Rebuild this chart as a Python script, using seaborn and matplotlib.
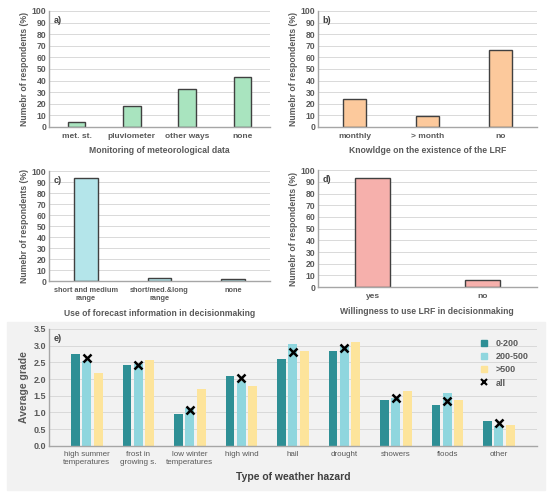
import numpy as np
import pandas as pd
import matplotlib
matplotlib.use("Agg")
import matplotlib.pyplot as plt
from matplotlib.patches import Rectangle
from matplotlib.lines import Line2D
import seaborn as sns

# panel a) monitoring of meteorological data
mon_labels = ["met. st.", "pluviometer", "other ways", "none"]
mon_vals = [4, 18, 33, 43]

# panel b) knowledge on LRF
know_labels = ["monthly", "> month", "no"]
know_vals = [24, 9.5, 66]

# panel c) use of forecast information
use_labels = ["short and medium\nrange", "short/med.&long\nrange", "none"]
use_vals = [94, 3, 2]

# panel d) willingness to use LRF
will_labels = ["yes", "no"]
will_vals = [93, 6]

# panel e) average grade per hazard and farm size
hazards = ["high summer\ntemperatures", "frost in\ngrowing s.", "low winter\ntemperatures",
           "high wind", "hail", "drought", "showers", "floods", "other"]
g_0_200 = [2.76, 2.43, 0.96, 2.08, 2.59, 2.84, 1.37, 1.22, 0.75]
g_200_500 = [2.55, 2.45, 1.13, 1.94, 3.04, 3.00, 1.43, 1.57, 0.60]
g_500 = [2.19, 2.57, 1.69, 1.80, 2.83, 3.11, 1.64, 1.36, 0.62]
g_all = [2.62, 2.42, 1.08, 2.02, 2.82, 2.92, 1.43, 1.34, 0.68]
groups = ["0-200", "200-500", ">500"]

sns.set_theme(style="white")
plt.rcParams['font.family'] = ['Liberation Sans', 'DejaVu Sans']
plt.rcParams['font.weight'] = 'bold'

tick_col = "#595959"
grid_col = "#d9d9d9"
spine_col = "#a6a6a6"

fig = plt.figure(figsize=(5.5, 4.96), dpi=100)

# gray box behind panel e
fig.patches.append(Rectangle((7 / 550, 1 - 490 / 496), 538 / 550, 168 / 496,
                             transform=fig.transFigure, color="#f2f2f2", zorder=-5))


def style_axis(ax, ymax, step, xsize=6.0):
    ax.set_ylim(0, ymax)
    ax.set_yticks(np.arange(0, ymax + step / 2, step))
    ax.grid(axis="y", color=grid_col, linewidth=0.7)
    ax.set_axisbelow(True)
    for s in ["top", "right"]:
        ax.spines[s].set_visible(False)
    for s in ["left", "bottom"]:
        ax.spines[s].set_color(spine_col)
        ax.spines[s].set_linewidth(1.0)
    ax.tick_params(axis="both", length=0, pad=2, colors=tick_col, labelsize=6.2)
    ax.tick_params(axis="x", labelsize=xsize, pad=4)
    for t in ax.get_yticklabels() + ax.get_xticklabels():
        t.set_fontweight("bold")


def small_panel(rect, labels, vals, color, letter, xlabel, xsize=6.0):
    ax = fig.add_axes(rect)
    df = pd.DataFrame({"cat": labels, "val": vals})
    sns.barplot(data=df, x="cat", y="val", color=color, width=0.32, saturation=1,
                edgecolor="#404040", linewidth=1.0, ax=ax)
    style_axis(ax, 100, 10, xsize)
    ax.set_ylabel("Numebr of respondents (%)", fontsize=6.2, color=tick_col,
                  fontweight="bold", labelpad=2)
    ax.set_xlabel(xlabel, fontsize=6.2, color=tick_col, fontweight="bold", labelpad=5)
    ax.text(0.02, 0.96, letter, transform=ax.transAxes, fontsize=6.5,
            fontweight="bold", color="#404040", va="top")
    return ax


small_panel([0.089, 0.744, 0.402, 0.234], mon_labels, mon_vals, "#a9e4bf", "a)",
            "Monitoring of meteorological data")
small_panel([0.578, 0.744, 0.398, 0.234], know_labels, know_vals, "#fcc99c", "b)",
            "Knowldge on the existence of the LRF")
small_panel([0.089, 0.433, 0.402, 0.222], use_labels, use_vals, "#b4e5ea", "c)",
            "Use of forecast information in decisionmaking", xsize=5.3)
small_panel([0.578, 0.421, 0.398, 0.236], will_labels, will_vals, "#f6b0ac", "d)",
            "Willingness to use LRF in decisionmaking")

# panel e
ax = fig.add_axes([0.089, 0.101, 0.887, 0.236])
ax.set_facecolor("#f2f2f2")
long = pd.DataFrame({
    "hazard": hazards * 3,
    "grade": g_0_200 + g_200_500 + g_500,
    "size": [g for g in groups for _ in hazards],
})
pal = ["#2e8f95", "#8fd6de", "#fde49b"]
sns.barplot(data=long, x="hazard", y="grade", hue="size", palette=pal, saturation=1,
            width=0.66, gap=0.22, linewidth=0, ax=ax, legend=False)
ax.plot(np.arange(len(hazards)), g_all, linestyle="none", marker="x",
        color="black", markersize=6, markeredgewidth=1.8, zorder=5)
style_axis(ax, 3.5, 0.5)
ax.set_yticklabels([f"{v:.1f}" for v in np.arange(0, 3.51, 0.5)])
ax.tick_params(axis="y", labelsize=6.5)
ax.tick_params(axis="x", labelsize=5.8)
for t in ax.get_xticklabels():
    t.set_fontweight("normal")
for t in ax.get_yticklabels():
    t.set_fontweight("bold")
ax.set_ylabel("Average grade", fontsize=7.5, color=tick_col, fontweight="bold", labelpad=3)
ax.set_xlabel("Type of weather hazard", fontsize=7.5, color="#404040",
              fontweight="bold", labelpad=4)
ax.text(0.01, 0.96, "e)", transform=ax.transAxes, fontsize=6.5,
        fontweight="bold", color="#404040", va="top")

handles = [Line2D([], [], linestyle="none", marker="s", color=c, markersize=4) for c in pal]
handles.append(Line2D([], [], linestyle="none", marker="x", color="black",
                      markersize=4, markeredgewidth=1.5))
leg = ax.legend(handles, groups + ["all"], loc="upper right", frameon=False,
                fontsize=6.5, handletextpad=0.3, labelspacing=0.45,
                bbox_to_anchor=(1.0, 0.98))
for t in leg.get_texts():
    t.set_color(tick_col)
    t.set_fontweight("bold")

fig.savefig("out.png", dpi=100)
